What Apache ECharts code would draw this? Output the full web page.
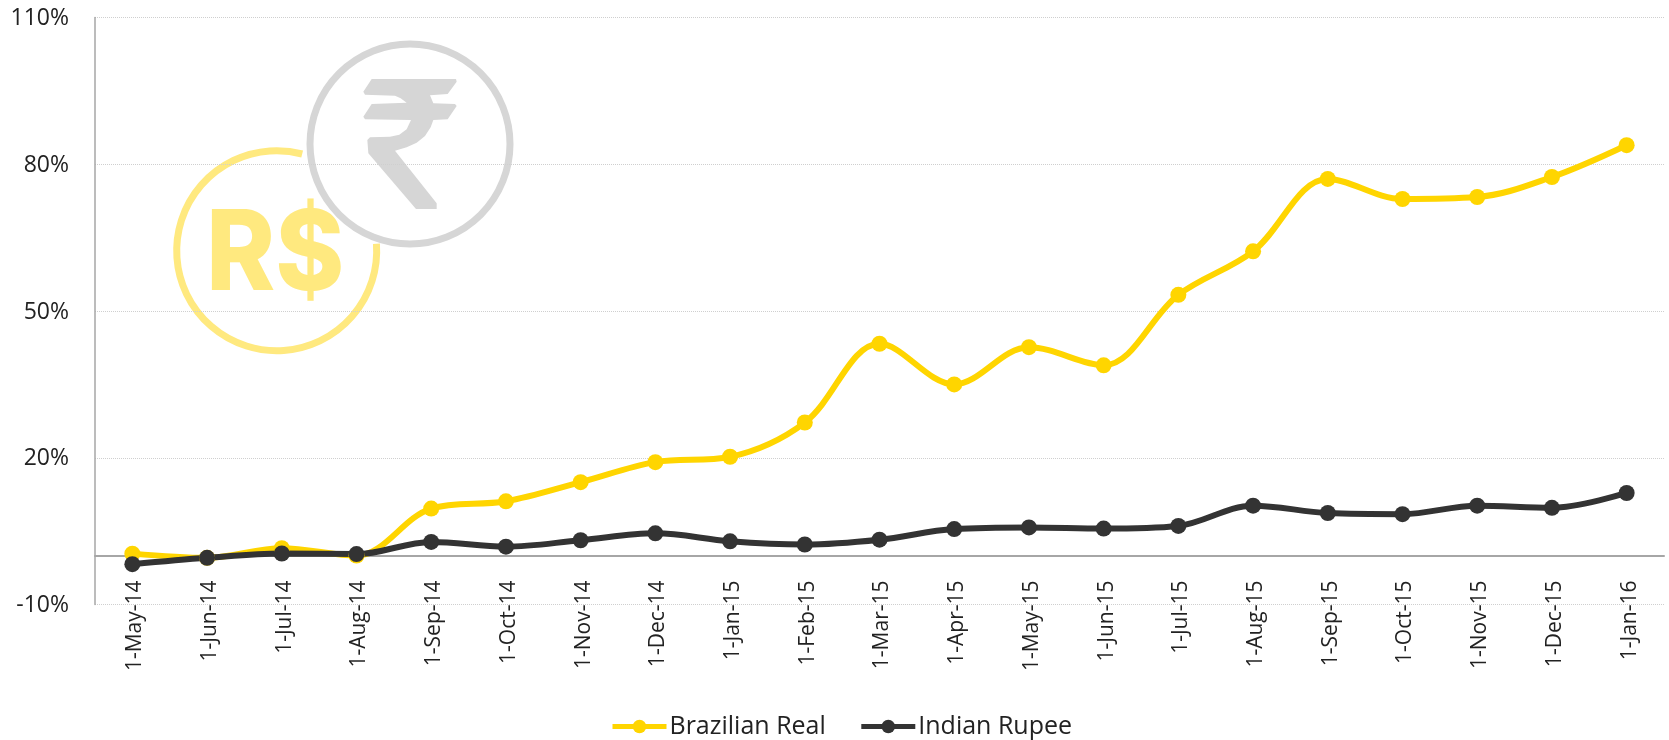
<!DOCTYPE html>
<html><head><meta charset="utf-8">
<style>html,body{margin:0;padding:0;background:#fff}#c{width:1669px;height:740px}</style>
<script src="https://cdn.jsdelivr.net/npm/echarts@6/dist/echarts.min.js"></script>
</head><body><div id="c"></div>
<script>
const categories = ["1-May-14","1-Jun-14","1-Jul-14","1-Aug-14","1-Sep-14","1-Oct-14","1-Nov-14","1-Dec-14","1-Jan-15","1-Feb-15","1-Mar-15","1-Apr-15","1-May-15","1-Jun-15","1-Jul-15","1-Aug-15","1-Sep-15","1-Oct-15","1-Nov-15","1-Dec-15","1-Jan-16"];
const brazilianReal = [0.4,-0.45,1.5,0,9.6,11.1,15,19.1,20.2,27.2,43.3,35,42.6,38.9,53.3,62.2,77,72.9,73.3,77.4,83.9];
const indianRupee = [-1.76,-0.45,0.42,0.3,2.8,1.83,3.14,4.55,2.92,2.27,3.25,5.42,5.75,5.53,6.07,10.2,8.7,8.47,10.2,9.77,12.8];
const FONT = '"Open Sans", sans-serif';
const rupeeOutline = [[665,177],[918,177],[920,185],[893,222],[840,226],[850,250],[915,252],[920,258],[893,298],[850,300],[842,322],[825,348],[800,368],[770,382],[735,392],[860,550],[860,567],[798,567],[655,400],[652,360],[660,352],[720,350],[748,344],[770,328],[783,300],[645,298],[640,290],[665,252],[770,248],[752,235],[735,227],[645,224],[640,215]];
const chart = echarts.init(document.getElementById('c'), null, {renderer:'canvas'});
chart.setOption({
  animation:false,
  backgroundColor:'#fff',
  textStyle:{fontFamily:FONT},
  grid:{left:95,top:17.5,width:1569,height:587,containLabel:false},
  legend:{
    left:605,top:709,itemWidth:54,itemHeight:17,itemGap:33,
    lineStyle:{width:5},
    textStyle:{fontFamily:FONT,fontSize:25,color:'#222',padding:[0,0,0,-2]},
    data:['Brazilian Real','Indian Rupee']
  },
  graphic:[
    {type:'arc',z:-1,shape:{cx:276.7,cy:250.7,r:100,startAngle:-0.07,endAngle:4.97,clockwise:true},style:{fill:null,stroke:'#FFE97F',lineWidth:7}},
    {type:'text',z:-1,x:206,y:200,scaleX:0.935,style:{text:'R$',font:'800 112px Inter, sans-serif',fill:'#FFE97F'}},
    {type:'circle',z:-1,shape:{cx:410,cy:144,r:100},style:{fill:'#fff',stroke:'#D6D6D6',lineWidth:7}},
    {type:'polygon',z:-1,x:150,y:20,scaleX:1/3,scaleY:1/3,shape:{points:rupeeOutline},style:{fill:'#D6D6D6'}}
  ],
  xAxis:{
    type:'category',data:categories,boundaryGap:true,
    axisLine:{show:true,onZero:true,lineStyle:{color:'#A6A6A6',width:2}},
    axisTick:{show:false},
    axisLabel:{rotate:90,margin:-24,interval:0,fontFamily:FONT,fontSize:21,color:'#222',verticalAlign:'top',lineHeight:6},
    splitLine:{show:false}
  },
  yAxis:{
    type:'value',min:-10,max:110,interval:30,
    axisLine:{show:true,onZero:false,lineStyle:{color:'#A6A6A6',width:1.5}},
    axisTick:{show:false},
    axisLabel:{margin:26,fontFamily:FONT,fontSize:23,color:'#222',formatter:'{value}%',verticalAlign:'top',lineHeight:2},
    splitLine:{show:true,lineStyle:{color:'#CFCFCF',width:1,type:'dotted'}}
  },
  series:[
    {name:'Brazilian Real',type:'line',data:brazilianReal,smooth:0.35,symbol:'circle',symbolSize:16,
     lineStyle:{color:'#FFD500',width:6},itemStyle:{color:'#FFD500'}},
    {name:'Indian Rupee',type:'line',data:indianRupee,smooth:0.35,symbol:'circle',symbolSize:16,
     lineStyle:{color:'#333333',width:6},itemStyle:{color:'#333333'}}
  ]
});
</script></body></html>
